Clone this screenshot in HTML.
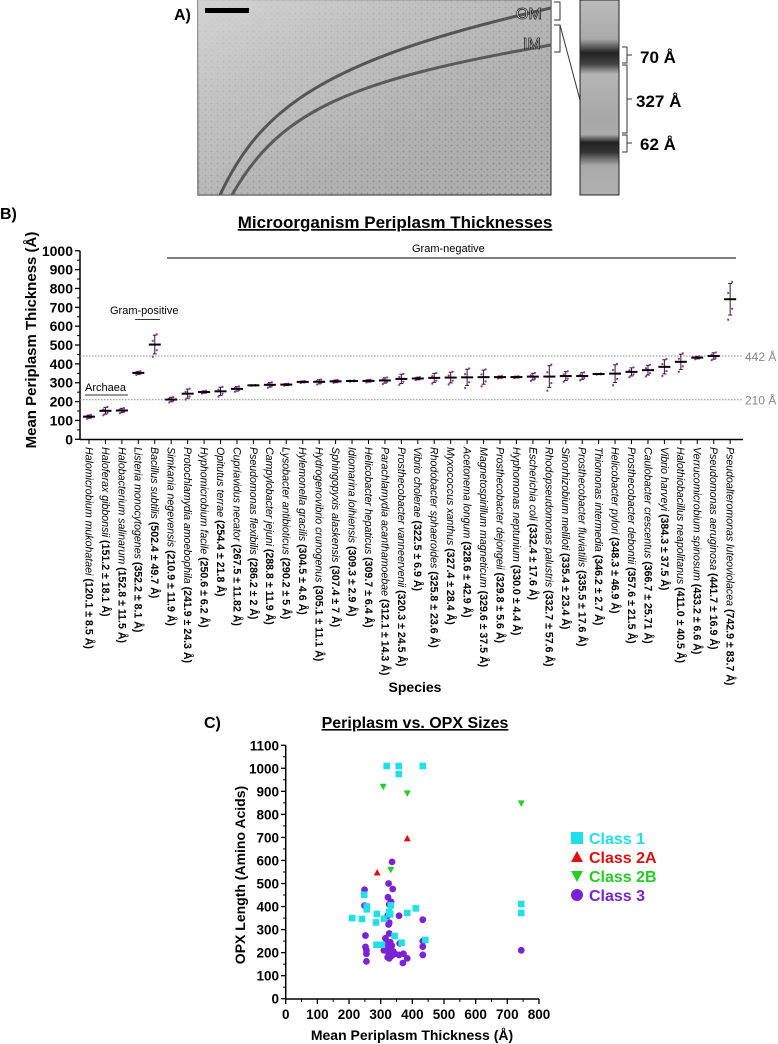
<!DOCTYPE html>
<html><head><meta charset="utf-8"><style>
body{margin:0;background:#fff;width:778px;height:1044px;overflow:hidden;font-family:"Liberation Sans",sans-serif}
svg{position:absolute;left:0;top:0}
</style></head><body>
<svg id="s" width="778" height="1044" xmlns="http://www.w3.org/2000/svg" font-family="Liberation Sans, sans-serif">
<defs>
<pattern id="noise" width="6" height="6" patternUnits="userSpaceOnUse">
<rect width="6" height="6" fill="#b0b0b0"/><circle cx="1.5" cy="1.5" r="1" fill="#858585"/><circle cx="4.5" cy="4" r="0.8" fill="#949494"/>
</pattern>
<linearGradient id="bg" x1="0" y1="0" x2="1" y2="1"><stop offset="0" stop-color="#d8d8d8" stop-opacity="0.9"/><stop offset="0.45" stop-color="#c8c8c8" stop-opacity="0.5"/><stop offset="1" stop-color="#999" stop-opacity="0"/></linearGradient>
<linearGradient id="strip" x1="0" y1="0" x2="0" y2="1">
<stop offset="0" stop-color="#bbb"/><stop offset="0.2" stop-color="#aaa"/><stop offset="0.27" stop-color="#222"/><stop offset="0.33" stop-color="#444"/><stop offset="0.38" stop-color="#b5b5b5"/><stop offset="0.6" stop-color="#a8a8a8"/><stop offset="0.69" stop-color="#aaa"/><stop offset="0.73" stop-color="#222"/><stop offset="0.78" stop-color="#333"/><stop offset="0.85" stop-color="#aaa"/><stop offset="1" stop-color="#b0b0b0"/></linearGradient>
</defs>
<g>
<text x="174" y="20" font-size="16" font-weight="bold">A)</text>
<rect x="198" y="0" width="353" height="195" fill="url(#noise)" stroke="#222"/>
<rect x="198" y="0" width="353" height="195" fill="url(#bg)"/>
<path d="M220 195 C260 110 320 60 551 8" stroke="#555" stroke-width="3" fill="none"/>
<path d="M232 195 C280 110 350 80 551 45" stroke="#5a5a5a" stroke-width="3" fill="none"/>
<rect x="205" y="8" width="44" height="5" fill="#000"/>
<text x="516" y="19" font-size="16" fill="#fff" stroke="#222" stroke-width="0.8">OM</text>
<text x="523" y="49" font-size="16" fill="#fff" stroke="#222" stroke-width="0.8">IM</text>
<path d="M554 2 H560 V20 H554 M554 25 H560 V52 H554 M560 25 L580 100" stroke="#333" fill="none"/>
<rect x="580" y="0" width="39" height="195" fill="url(#strip)" stroke="#222"/>
<path d="M622 47 H627 V63 H622 M632 55 H627 M622 65 H627 V133 H622 M632 99 H627 M622 135 H627 V152 H622 M632 143 H627" stroke="#333" fill="none"/>
<text x="640" y="63" font-size="17" font-weight="bold">70 Å</text>
<text x="636" y="107" font-size="17" font-weight="bold">327 Å</text>
<text x="640" y="150" font-size="17" font-weight="bold">62 Å</text>
</g>
<g id="b"></g>
<g id="c"></g>
</svg>
<script>
const species=["Halomicrobium mukohataei","Haloferax gibbonsii","Halobacterium salinarum","Listeria monocytogenes","Bacillus subtilis","Simkania negevensis","Protochlamydia amoebophila","Hyphomicrobium facile","Opitutus terrae","Cupriavidus necator","Pseudomonas flexibilis","Campylobacter jejuni","Lysobacter antibioticus","Hylemonella gracilis","Hydrogenovibrio crunogenus","Sphingopyxis alaskensis","Idiomarina loihiensis","Helicobacter hepaticus","Parachlamydia acanthamoebae","Prosthecobacter vanneervenii","Vibrio cholerae","Rhodobacter sphaeroides","Myxococcus xanthus","Acetonema longum","Magnetospirillum magneticum","Prosthecobacter dejongeii","Hyphomonas neptunium","Escherichia coli","Rhodopseudomonas palustris","Sinorhizobium meliloti","Prosthecobacter fluviatilis","Thiomonas intermedia","Helicobacter pylori","Prosthecobacter debontii","Caulobacter crescentus","Vibrio harveyi","Halothiobacillus neapolitanus","Verrucomicrobium spinosum","Pseudomonas aeruginosa","Pseudoalteromonas luteoviolacea"];
const means=[120.1,151.2,152.8,352.2,502.4,210.9,241.9,250.6,254.4,267.5,286.2,288.8,290.2,304.5,305.1,307.4,309.3,309.7,312.1,320.3,322.5,325.8,327.4,328.6,329.6,329.8,330.0,332.4,332.7,335.4,335.5,346.2,348.3,357.6,366.7,384.3,411.0,433.2,441.7,742.9];
const sds=[8.5,18.1,11.5,8.1,49.7,11.9,24.3,6.2,21.8,11.82,2.0,11.9,5.0,4.6,11.1,7.0,2.9,6.4,14.3,24.5,6.9,23.6,28.4,42.9,37.5,5.6,4.4,17.6,57.6,23.4,17.6,2.7,46.9,21.5,25.71,37.5,40.5,6.6,16.9,83.7];
const bTicks=[0,100,200,300,400,500,600,700,800,900,1000];
const refLines=[442,210];
const c1x=[319,357,357,433,210,241,248,256,256,288,285,311,332,330,327,344,384,411,441,366,287,304,744,744];
const c1y=[1010,1010,975,1010,350,346,451,400,388,368,331,347,405,367,376,272,372,392,255,243,234,234,411,372];
const c2ax=[289,384];
const c2ay=[548,696];
const c2bx=[308,384,332,744];
const c2by=[920,891,559,848];
const c3x=[249,249,252,252,255,255,255,325,336,338,323,333,327,322,315,327,325,327,310,320,330,335,318,325,330,340,345,322,327,333,338,358,360,358,370,372,384,433,433,433,433,744];
const c3y=[473,404,274,225,210,195,162,500,594,476,440,420,410,360,262,330,322,283,210,240,245,230,220,200,210,205,195,180,175,185,190,360,240,190,155,195,175,343,250,226,190,210];
const cTicksX=[0,100,200,300,400,500,600,700,800];
const cTicksY=[0,100,200,300,400,500,600,700,800,900,1000,1100];
const NS="http://www.w3.org/2000/svg";
function mk(p,t,a,txt){const e=document.createElementNS(NS,t);for(const k in a)e.setAttribute(k,a[k]);if(txt!==undefined)e.textContent=txt;p.appendChild(e);return e;}
// Panel B
const B=document.getElementById('b');
const bx=i=>89+i*16.44, by=v=>439.3-v*0.18855;
let e;
e=mk(B,'text',{x:0,y:219,'font-size':16,'font-weight':'bold'},'B)');


e=mk(B,'text',{x:395,y:228,'font-size':17,'font-weight':'bold','text-anchor':'middle','text-decoration':'underline'},'Microorganism  Periplasm Thicknesses');


e=mk(B,'text',{transform:'translate(36,340) rotate(-90)','font-size':15,'font-weight':'bold','text-anchor':'middle'},'Mean Periplasm Thickness (Å)');


mk(B,'line',{x1:80,y1:by(1000),x2:80,y2:439.5,stroke:'#000','stroke-width':1.5});
mk(B,'line',{x1:80,y1:439.5,x2:743,y2:439.5,stroke:'#000','stroke-width':1.5});
bTicks.forEach(t=>{mk(B,'line',{x1:75,y1:by(t),x2:80,y2:by(t),stroke:'#000','stroke-width':1.3});
 e=mk(B,'text',{x:73,y:by(t)+5,'font-size':14,'font-weight':'bold','text-anchor':'end'},t);
 
 
 if(t<1000)mk(B,'line',{x1:77,y1:by(t+50),x2:80,y2:by(t+50),stroke:'#000'});});
refLines.forEach(r=>{e=mk(B,'line',{x1:80,y1:by(r),x2:743,y2:by(r),stroke:'#888','stroke-dasharray':'1.5,1.5'});
 
 
 e=mk(B,'text',{x:745,y:by(r)+5,'font-size':12,fill:'#888'},r+' Å');
 
 });
mk(B,'line',{x1:85,y1:395,x2:128,y2:395,stroke:'#333'});
e=mk(B,'text',{x:85,y:391,'font-size':11},'Archaea');
mk(B,'line',{x1:135,y1:319.5,x2:160,y2:319.5,stroke:'#333'});
e=mk(B,'text',{x:110,y:314,'font-size':11},'Gram-positive');
mk(B,'line',{x1:167,y1:258,x2:736,y2:258,stroke:'#000'});
e=mk(B,'text',{x:412,y:252,'font-size':11},'Gram-negative');
species.forEach((s,i)=>{const x=bx(i),m=means[i],sd=sds[i];
 mk(B,'line',{x1:x,y1:439.5,x2:x,y2:444,stroke:'#000'});
 e=mk(B,'line',{x1:x,y1:by(m+sd),x2:x,y2:by(m-sd),stroke:'#222','stroke-width':1});
 
 
 [m+sd,m-sd].forEach(v=>mk(B,'line',{x1:x-2,y1:by(v),x2:x+2,y2:by(v),stroke:'#222'}));
 [-1.3,-0.6,0.4,1.1].forEach((k,j)=>{e=mk(B,'circle',{cx:x+(j%2?2:-2),cy:by(m+k*sd),r:1.1,fill:'#b020b0'});
  
  });
 e=mk(B,'line',{x1:x-6,y1:by(m),x2:x+6,y2:by(m),stroke:'#000','stroke-width':2});
 
 
 const t=mk(B,'text',{transform:`translate(${x-3.6},447) rotate(90)`,'font-size':10.6});
 mk(t,'tspan',{'font-style':'italic'},s+' ');
 mk(t,'tspan',{'font-weight':'bold'},'('+m.toFixed(1)+' ± '+sd+' Å)');
 
 });
e=mk(B,'text',{x:415,y:692,'font-size':14,'font-weight':'bold','text-anchor':'middle'},'Species');


// Panel C
const C=document.getElementById('c');
const cx=v=>285.7+v*0.3166, cy=v=>998.7-v*0.2304;
e=mk(C,'text',{x:204,y:728,'font-size':16,'font-weight':'bold'},'C)');
e=mk(C,'text',{x:415,y:728,'font-size':16,'font-weight':'bold','text-anchor':'middle','text-decoration':'underline'},'Periplasm vs. OPX Sizes');
e=mk(C,'text',{transform:'translate(245,875) rotate(-90)','font-size':14,'font-weight':'bold','text-anchor':'middle'},'OPX Length (Amino Acids)');
e=mk(C,'text',{x:412,y:1040,'font-size':14,'font-weight':'bold','text-anchor':'middle'},'Mean Periplasm Thickness (Å)');
mk(C,'line',{x1:285.7,y1:cy(1100),x2:285.7,y2:999,stroke:'#000','stroke-width':1.5});
mk(C,'line',{x1:285.7,y1:999,x2:539,y2:999,stroke:'#000','stroke-width':1.5});
cTicksY.forEach(t=>{mk(C,'line',{x1:281,y1:cy(t),x2:285.7,y2:cy(t),stroke:'#000','stroke-width':1.3});
 if(t<1100)mk(C,'line',{x1:283,y1:cy(t+50),x2:285.7,y2:cy(t+50),stroke:'#000'});
 e=mk(C,'text',{x:279,y:cy(t)+5,'font-size':13.5,'font-weight':'bold','text-anchor':'end'},t);
 });
cTicksX.forEach(t=>{mk(C,'line',{x1:cx(t),y1:999,x2:cx(t),y2:1004,stroke:'#000','stroke-width':1.3});
 if(t<800)mk(C,'line',{x1:cx(t+50),y1:999,x2:cx(t+50),y2:1002,stroke:'#000'});
 e=mk(C,'text',{x:cx(t),y:1019,'font-size':13.5,'font-weight':'bold','text-anchor':'middle'},t);
 });
c3x.forEach((v,i)=>{e=mk(C,'circle',{cx:cx(v),cy:cy(c3y[i]),r:3.4,fill:'#7b22d6'});});
c1x.forEach((v,i)=>{e=mk(C,'rect',{x:cx(v)-3.3,y:cy(c1y[i])-3.3,width:6.6,height:6.6,fill:'#1ee0ea'});});
c2ax.forEach((v,i)=>{const X=cx(v),Y=cy(c2ay[i]);e=mk(C,'polygon',{points:`${X},${Y-3.5} ${X+3.5},${Y+3} ${X-3.5},${Y+3}`,fill:'#e01010'});});
c2bx.forEach((v,i)=>{const X=cx(v),Y=cy(c2by[i]);e=mk(C,'polygon',{points:`${X-3.5},${Y-3} ${X+3.5},${Y-3} ${X},${Y+3.5}`,fill:'#22d022'});});
const lg=[['Class 1','#1ee0ea','sq'],['Class 2A','#e01010','up'],['Class 2B','#22d022','dn'],['Class 3','#7b22d6','ci']];
lg.forEach((l,i)=>{const Y=838+i*19,X=577;let m;
 if(l[2]=='sq')m=mk(C,'rect',{x:X-6,y:Y-6,width:12,height:12,fill:l[1]});
 else if(l[2]=='up')m=mk(C,'polygon',{points:`${X},${Y-6} ${X+6},${Y+5} ${X-6},${Y+5}`,fill:l[1]});
 else if(l[2]=='dn')m=mk(C,'polygon',{points:`${X-6},${Y-5} ${X+6},${Y-5} ${X},${Y+6}`,fill:l[1]});
 else m=mk(C,'circle',{cx:X,cy:Y,r:6,fill:l[1]});
 
 e=mk(C,'text',{x:589,y:Y+6,'font-size':16,'font-weight':'bold',fill:l[1]},l[0]);
 });
</script>
</body></html>
